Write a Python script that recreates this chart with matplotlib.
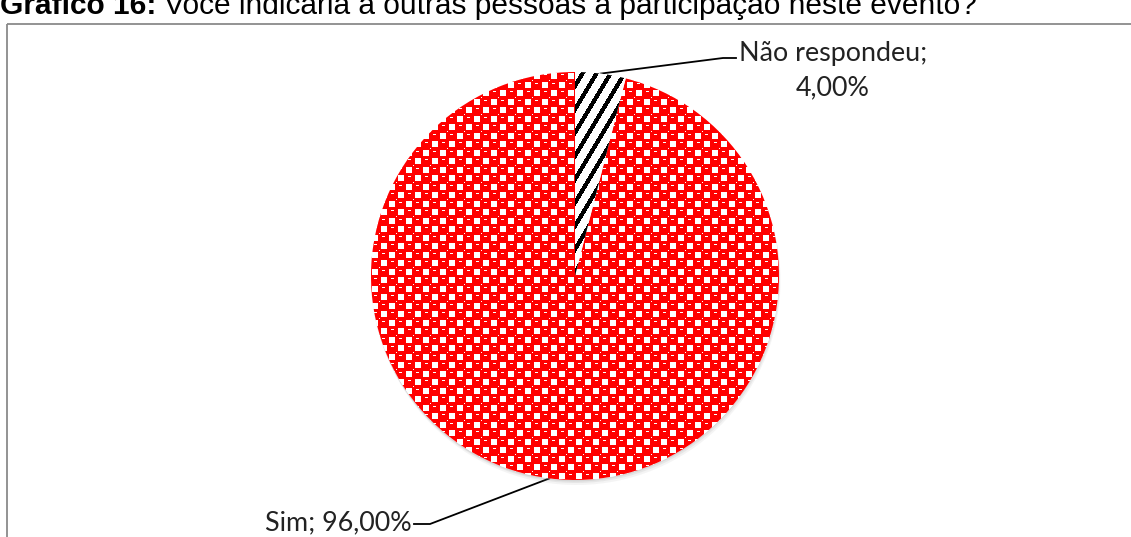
import numpy as np
import matplotlib
matplotlib.use("Agg")
import matplotlib.pyplot as plt
from matplotlib.patches import Rectangle, Shadow

# dados do gráfico
categorias = ["Não respondeu", "Sim"]
percentuais = [4.0, 96.0]
titulo_num = "Gráfico 16:"
titulo_txt = "Você indicaria a outras pessoas a participação neste evento?"

W, H = 1131, 537
CX, CY, R = 575, 276, 204   # centro e raio da pizza em pixels (origem no canto superior esquerdo)

fig = plt.figure(figsize=(W / 100, H / 100), dpi=100)
fundo = fig.add_axes([0, 0, 1, 1])
fundo.set_xlim(0, W)
fundo.set_ylim(H, 0)
fundo.axis("off")

# moldura cinza (cortada à direita e embaixo)
fundo.add_patch(Rectangle((7, 24), W, H, fill=False, edgecolor="#8a8a8a", linewidth=1.3))

ax = fig.add_axes([(CX - R) / W, (H - CY - R) / H, 2 * R / W, 2 * R / H])
fatias, _ = ax.pie(percentuais, startangle=90, counterclock=False, radius=1,
                   colors=["white", "white"], wedgeprops=dict(linewidth=0))

# sombra suave embaixo (deslocamento em pixels convertido para a unidade do Shadow)
for f in fatias:
    for dx, dy, a in [(0, -1.5, 0.14), (1, -3, 0.11), (1.5, -5, 0.08)]:
        k = 72 / 100 / R
        ax.add_patch(Shadow(f, dx * k, dy * k, facecolor="#7a7a7a", edgecolor="none", alpha=a))

n = 2 * R
yy, xx = np.mgrid[0:n, 0:n] + 0.5

# textura xadrez vermelha da fatia "Sim"
cel = 8.5
u, v = xx / cel, yy / cel
i, j = np.floor(u), np.floor(v)
fu, fv = u - i - 0.5, v - j - 0.5
branco = ((i + j) % 2 == 1) & (np.maximum(abs(fu), abs(fv)) < 0.34)
brilho = ((i + j) % 2 == 0) & (abs(fu) < 0.2) & (abs(fv + 0.16) < 0.07)
cantos = ((i + j) % 2 == 0) & (abs(fu) > 0.46) & (abs(fv) > 0.46)
xadrez = np.zeros((n, n, 3))
xadrez[:] = (1, 0, 0)
xadrez[branco | brilho | cantos] = (1, 1, 1)
im = ax.imshow(xadrez, extent=(-1, 1, -1, 1), interpolation="nearest", zorder=2)
im.set_clip_path(fatias[1])

# listras pretas diagonais da fatia "Não respondeu"
fase = (xx + 0.6 * yy) % 14
listras = np.ones((n, n, 3))
listras[fase < 5] = (0, 0, 0)
im2 = ax.imshow(listras, extent=(-1, 1, -1, 1), interpolation="nearest", zorder=2)
im2.set_clip_path(fatias[0])

ax.set_xlim(-1, 1)
ax.set_ylim(-1, 1)
ax.axis("off")

rend = fig.canvas.get_renderer()


def largura(t):
    return t.get_window_extent(renderer=rend).width


def ajustar(t, alvo):
    t.set_fontsize(t.get_fontsize() * alvo / largura(t))


def ponto_meio(f):
    t = np.deg2rad((f.theta1 + f.theta2) / 2)
    return CX + R * np.cos(t), CY - R * np.sin(t)


fonte = "Lato"

# rótulo "Não respondeu"
x0, y0 = ponto_meio(fatias[0])
fundo.plot([x0, 723, 736], [y0, 58, 58], color="black", linewidth=1.3)
t1 = fundo.text(833, 61, f"{categorias[0]};", ha="center", va="baseline",
                fontsize=19, family=fonte, color="#222222")
ajustar(t1, 188)
t2 = fundo.text(833, 95, f"{percentuais[0]:.2f}%".replace(".", ","), ha="center",
                va="baseline", fontsize=t1.get_fontsize(), family=fonte, color="#222222")

# rótulo "Sim"
x1, y1 = ponto_meio(fatias[1])
fundo.plot([x1, 430, 414], [y1, 524, 524], color="black", linewidth=1.3)
t3 = fundo.text(412, 530, f"{categorias[1]}; " + f"{percentuais[1]:.2f}%".replace(".", ","),
                ha="right", va="baseline", fontsize=t1.get_fontsize(), family=fonte,
                color="#222222")

# título (cortado no topo, como no original)
tb = fundo.text(0, 14, titulo_num, ha="left", va="baseline", fontsize=20,
                family="Liberation Sans", fontweight="bold")
tr = fundo.text(0, 14, " " + titulo_txt, ha="left", va="baseline", fontsize=20,
                family="Liberation Sans")
escala = 975 / (largura(tb) + largura(tr))
tb.set_fontsize(20 * escala)
tr.set_fontsize(20 * escala)
tr.set_x(largura(tb))

fig.savefig("out.png", dpi=100)
